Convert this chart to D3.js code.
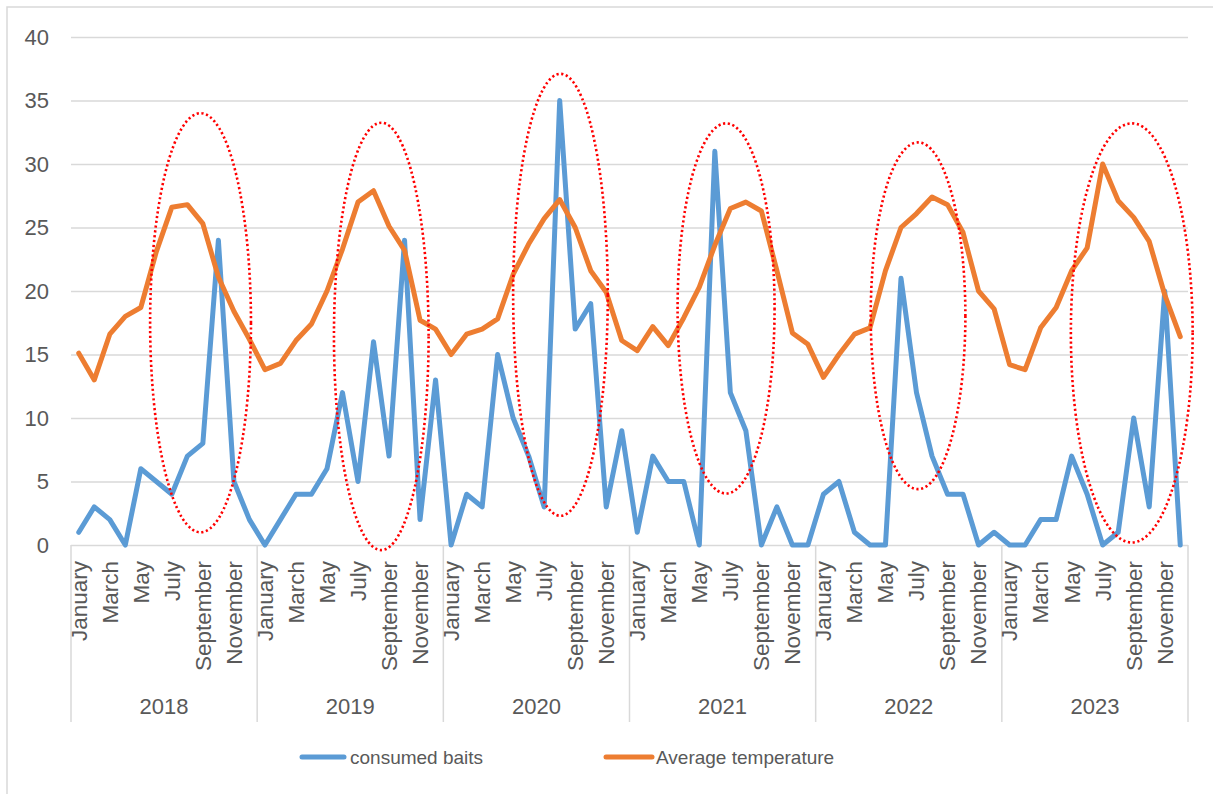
<!DOCTYPE html>
<html>
<head>
<meta charset="utf-8">
<script src="https://cdn.jsdelivr.net/npm/d3@7"></script>
<style>
  html, body { margin: 0; padding: 0; background: #fff; }
  svg { display: block; font-family: "Liberation Sans", Arial, sans-serif; }
</style>
</head>
<body>
<svg id="chart" width="1213" height="794"></svg>
<script>
// ---- data ----
const years = ["2018", "2019", "2020", "2021", "2022", "2023"];
const months = ["January", "February", "March", "April", "May", "June", "July",
  "August", "September", "October", "November", "December"];
const shownMonths = ["January", "March", "May", "July", "September", "November"];

const consumedBaits = [
  1, 3, 2, 0, 6, 5, 4, 7, 8, 24, 5, 2,
  0, 2, 4, 4, 6, 12, 5, 16, 7, 24, 2, 13,
  0, 4, 3, 15, 10, 7, 3, 35, 17, 19, 3, 9,
  1, 7, 5, 5, 0, 31, 12, 9, 0, 3, 0, 0,
  4, 5, 1, 0, 0, 21, 12, 7, 4, 4, 0, 1,
  0, 0, 2, 2, 7, 4, 0, 1, 10, 3, 20, 0
];
const averageTemperature = [
  15.1, 13.0, 16.6, 18.0, 18.7, 23.1, 26.6, 26.8, 25.3, 21.1, 18.4, 16.2,
  13.8, 14.3, 16.1, 17.4, 20.0, 23.3, 27.0, 27.9, 25.1, 23.2, 17.7, 17.0,
  15.0, 16.6, 17.0, 17.8, 21.3, 23.7, 25.7, 27.2, 25.0, 21.6, 19.9, 16.1,
  15.3, 17.2, 15.7, 17.9, 20.3, 23.6, 26.5, 27.0, 26.3, 21.6, 16.7, 15.8,
  13.2, 15.0, 16.6, 17.1, 21.6, 25.0, 26.1, 27.4, 26.8, 24.6, 20.0, 18.6,
  14.2, 13.8, 17.1, 18.7, 21.6, 23.4, 30.0, 27.1, 25.8, 23.9, 19.7, 16.4
];
const yTicks = [0, 5, 10, 15, 20, 25, 30, 35, 40];
const seriesNames = ["consumed baits", "Average temperature"];
// highlight ellipses in data units: month-slot span and value span
const highlightStart = [5.1, 16.95, 28.5, 39.1, 51.55, 64.45];
const highlightEnd = [11.6, 23.05, 34.6, 45.35, 57.65, 72.3];
const highlightTop = [34.0, 33.25, 37.1, 33.2, 31.7, 33.2];
const highlightBottom = [1.0, -0.4, 2.3, 4.05, 4.4, 0.2];

// ---- layout ----
const svg = d3.select("#chart");
const plot = { left: 71, right: 1188, top: 37, bottom: 545 };
const textColor = "#595959";
const gridColor = "#d9d9d9";
const colors = ["#5B9BD5", "#ED7D31"];

const keys = [];
years.forEach(y => months.forEach(m => keys.push(y + "|" + m)));

const x = d3.scaleBand().domain(keys).range([plot.left, plot.right]).padding(0);
const xSlot = d3.scaleLinear().domain([0, keys.length]).range([plot.left, plot.right]);
const xYear = d3.scaleBand().domain(years).range([plot.left, plot.right]).padding(0);
const y = d3.scaleLinear().domain([0, 40]).range([plot.bottom, plot.top]);

// outer border
svg.append("rect").attr("x", 7).attr("y", 7).attr("width", 1215).attr("height", 800)
  .attr("fill", "none").attr("stroke", gridColor).attr("stroke-width", 1.5);

// gridlines + y axis labels
const yAxis = d3.axisLeft(y).tickValues(yTicks).tickSize(-(plot.right - plot.left)).tickPadding(22);
const gy = svg.append("g").attr("transform", `translate(${plot.left},0)`).call(yAxis);
gy.select(".domain").remove();
gy.selectAll(".tick line").attr("stroke", gridColor).attr("stroke-width", 1.5);
gy.selectAll(".tick text").attr("fill", textColor).attr("font-size", 22)
  .attr("font-family", "Liberation Sans, Arial, sans-serif");

// x axis: separators
const sepX = years.map(yr => xYear(yr)).concat([plot.right]);
svg.append("g").selectAll("line").data(sepX).join("line")
  .attr("x1", d => d).attr("x2", d => d)
  .attr("y1", plot.bottom).attr("y2", 722)
  .attr("stroke", gridColor).attr("stroke-width", 1.5);

// month labels
const monthLabels = keys.filter(k => shownMonths.includes(k.split("|")[1]));
svg.append("g").selectAll("text").data(monthLabels).join("text")
  .attr("transform", d => `translate(${x(d) + x.bandwidth() / 2},561) rotate(-90)`)
  .attr("text-anchor", "end").attr("dy", "0.35em")
  .attr("fill", textColor).attr("font-size", 22.5)
  .text(d => d.split("|")[1]);

// year labels
svg.append("g").selectAll("text").data(years).join("text")
  .attr("x", d => xYear(d) + xYear.bandwidth() / 2).attr("y", 706)
  .attr("dy", "0.35em").attr("text-anchor", "middle")
  .attr("fill", textColor).attr("font-size", 22)
  .text(d => d);

// lines
const line = d3.line().x((d, i) => x(keys[i]) + x.bandwidth() / 2).y(d => y(d));
[consumedBaits, averageTemperature].forEach((series, si) => {
  svg.append("path").datum(series).attr("d", line)
    .attr("fill", "none").attr("stroke", colors[si]).attr("stroke-width", 5)
    .attr("stroke-linejoin", "round").attr("stroke-linecap", "round");
});

// highlight ellipses
svg.append("g").selectAll("ellipse").data(highlightStart).join("ellipse")
  .attr("cx", (d, i) => (xSlot(d) + xSlot(highlightEnd[i])) / 2)
  .attr("cy", (d, i) => (y(highlightTop[i]) + y(highlightBottom[i])) / 2)
  .attr("rx", (d, i) => (xSlot(highlightEnd[i]) - xSlot(d)) / 2)
  .attr("ry", (d, i) => (y(highlightBottom[i]) - y(highlightTop[i])) / 2)
  .attr("fill", "none").attr("stroke", "#FF0000").attr("stroke-width", 2.6)
  .attr("stroke-dasharray", "2.2,2.6");

// legend
const legendX = [302, 606];
const legend = svg.append("g").selectAll("g").data(seriesNames).join("g")
  .attr("transform", (d, i) => `translate(${legendX[i]},757)`);
legend.append("line").attr("x1", 0).attr("x2", (d, i) => i === 0 ? 42 : 46)
  .attr("y1", 0).attr("y2", 0)
  .attr("stroke", (d, i) => colors[i]).attr("stroke-width", 5).attr("stroke-linecap", "round");
legend.append("text").attr("x", (d, i) => i === 0 ? 48 : 50).attr("dy", "0.35em")
  .attr("fill", textColor).attr("font-size", 19).text(d => d);
</script>
</body>
</html>
